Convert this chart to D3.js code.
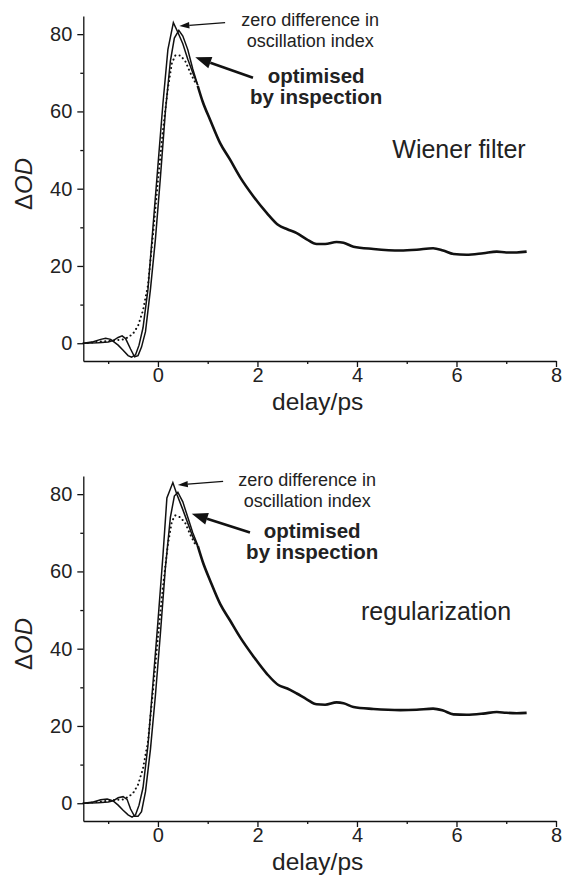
<!DOCTYPE html>
<html>
<head>
  <title>Delta OD traces</title>
  <script src="https://d3js.org/d3.v7.min.js"></script>
  <style>
    body { margin: 0; background: #fff; }
    text { font-family: "Liberation Sans", Arial, sans-serif; fill: #222; }
  </style>
</head>
<body>
  <svg width="563" height="878"></svg>

  <script>
    // axis ticks
    const xMajor = [0, 2, 4, 6, 8];
    const xMinor = [-1, 1, 3, 5, 7];
    const yMajor = [0, 20, 40, 60, 80];
    const yMinor = [10, 30, 50, 70];

    // ---- Wiener filter panel ----
    // [delay ps, dOD]
    const wienerZero = [[-1.5,0],[-1.3,0.4],[-1.15,1.0],[-1.05,1.3],[-0.95,1.0],[-0.8,-0.5],[-0.7,-1.8],[-0.6,-3.2],[-0.53,-3.6],[-0.45,-3],[-0.38,-0.5],[-0.3,4],[-0.2,14],[-0.1,30],[0,46],[0.1,62],[0.2,76],[0.31,83],[0.4,80.5],[0.5,77.5],[0.6,73.5],[0.7,70],[0.8,66.8]];
    const wienerOpt = [[-1.5,0],[-1.2,0.1],[-1.0,0.3],[-0.9,0.7],[-0.8,1.5],[-0.72,1.9],[-0.65,1.2],[-0.55,-1.5],[-0.47,-3.5],[-0.4,-3.2],[-0.33,-1],[-0.25,3],[-0.15,14],[-0.05,27],[0.05,43],[0.15,60],[0.25,73],[0.33,79],[0.42,81],[0.5,79.5],[0.6,76],[0.7,71],[0.8,66.8]];
    const wienerDot = [[-1.5,0],[-1.3,0.2],[-1.1,0.5],[-0.9,0.7],[-0.7,1.0],[-0.6,1.5],[-0.5,2.5],[-0.4,4.5],[-0.3,8.5],[-0.2,15],[-0.1,28],[0,42],[0.1,55],[0.2,66],[0.28,72.5],[0.35,74.5],[0.45,74.5],[0.55,73],[0.65,70],[0.75,67.5]];
    const wienerTail = [[0.8,66.6],[0.9,62.5],[1.05,57.8],[1.25,51.8],[1.45,47.5],[1.65,43],[1.92,38],[2.19,33.7],[2.42,30.6],[2.6,29.5],[2.79,28.5],[2.99,26.9],[3.19,25.7],[3.36,25.7],[3.59,26.2],[3.73,26.0],[3.93,25.0],[4.33,24.4],[4.87,24.0],[5.2,24.2],[5.53,24.6],[5.73,24.0],[5.94,23.1],[6.2,22.9],[6.54,23.3],[6.81,23.7],[7.0,23.5],[7.21,23.5],[7.41,23.7]];

    // ---- regularization panel ----
    const regZero = [[-1.5,0],[-1.3,0.3],[-1.15,0.9],[-1.02,1.1],[-0.9,0.6],[-0.8,-0.5],[-0.7,-1.8],[-0.6,-3.0],[-0.52,-3.6],[-0.45,-3],[-0.38,-0.5],[-0.3,4],[-0.2,15],[-0.1,31],[0,47],[0.1,64],[0.18,79],[0.3,83],[0.38,80],[0.5,76],[0.6,72.5],[0.7,69],[0.8,66.5]];
    const regOpt = [[-1.5,0],[-1.2,0.1],[-1.0,0.3],[-0.9,0.6],[-0.8,1.4],[-0.7,1.7],[-0.62,1.0],[-0.55,-1.5],[-0.47,-3.4],[-0.4,-3.4],[-0.33,-2.2],[-0.25,3],[-0.15,14],[-0.05,28],[0.05,44],[0.15,61],[0.25,74],[0.33,79.5],[0.4,80.5],[0.5,78],[0.6,74],[0.7,70],[0.8,66.8]];
    const regDot = [[-1.5,0],[-1.3,0.2],[-1.1,0.5],[-0.9,0.8],[-0.7,1.0],[-0.6,1.6],[-0.5,2.6],[-0.4,4.8],[-0.3,9],[-0.2,16],[-0.1,29],[0,43],[0.1,56],[0.2,67],[0.28,73],[0.35,74.5],[0.45,74],[0.55,72.5],[0.65,69.5],[0.75,67]];
    const regTail = [[0.8,66.6],[0.9,62.5],[1.05,57.6],[1.25,51.6],[1.45,47.3],[1.65,43],[1.92,38],[2.19,33.5],[2.42,30.6],[2.6,29.7],[2.79,28.4],[2.99,26.9],[3.19,25.6],[3.36,25.5],[3.59,26.1],[3.73,25.9],[3.93,24.9],[4.33,24.4],[4.87,24.1],[5.2,24.2],[5.53,24.5],[5.73,24.0],[5.94,23.0],[6.2,22.9],[6.54,23.2],[6.81,23.6],[7.0,23.4],[7.21,23.3],[7.41,23.4]];

    // annotation anchors in data units: [tail x, tail y, tip x, tip y]
    const wienerArrows = [[1.35,83.0,0.43,82.1],[1.91,68.7,0.75,74.0]];
    const regArrows = [[1.31,83.3,0.40,82.4],[1.85,70.1,0.68,74.9]];

    const svg = d3.select("svg");

    function drawPanel(top, zero, opt, dot, tail, arrows, notes) {
      const x = d3.scaleLinear().domain([-1.5, 8]).range([83.3, 556]);
      const y = d3.scaleLinear().domain([-4.6, 84.7]).range([top + 345, top]);
      const g = svg.append("g");
      const line = d3.line().x(d => x(d[0])).y(d => y(d[1]));
      const smooth = d3.line().x(d => x(d[0])).y(d => y(d[1])).curve(d3.curveMonotoneX);

      // x axis
      g.append("g").attr("transform", "translate(0," + y.range()[0] + ")")
        .call(d3.axisBottom(x).tickValues(xMajor).tickSize(6).tickPadding(1).tickSizeOuter(0));
      g.append("g").attr("transform", "translate(0," + y.range()[0] + ")")
        .call(d3.axisBottom(x).tickValues(xMinor).tickSize(3).tickFormat("").tickSizeOuter(0))
        .select(".domain").remove();

      // y axis
      g.append("g").attr("transform", "translate(" + x.range()[0] + ",0)")
        .call(d3.axisLeft(y).tickValues(yMajor).tickSize(6).tickPadding(5).tickSizeOuter(0));
      g.append("g").attr("transform", "translate(" + x.range()[0] + ",0)")
        .call(d3.axisLeft(y).tickValues(yMinor).tickSize(3).tickFormat("").tickSizeOuter(0))
        .select(".domain").remove();

      g.selectAll(".domain, .tick line").attr("stroke", "#111").attr("stroke-width", 1.3);
      g.selectAll(".tick text").style("font-size", "20px").attr("fill", "#222")
        .style("font-family", "'Liberation Sans', Arial, sans-serif");

      g.append("text")
        .attr("x", (x(-1.5) + x(8)) / 2 - 2)
        .attr("y", y.range()[0] + 49)
        .attr("text-anchor", "middle")
        .style("font-size", "24.5px")
        .text("delay/ps");

      const yt = g.append("text")
        .attr("transform", "translate(32," + (top + 168) + ") rotate(-90)")
        .attr("text-anchor", "middle")
        .style("font-size", "24px");
      yt.append("tspan").text("\u0394");
      yt.append("tspan").style("font-style", "italic").text("OD");

      // traces
      g.append("path").datum(dot).attr("d", line)
        .attr("fill", "none").attr("stroke", "#111").attr("stroke-width", 2)
        .attr("stroke-dasharray", "0.1,4.3").attr("stroke-linecap", "round");
      g.append("path").datum(zero).attr("d", line)
        .attr("fill", "none").attr("stroke", "#111").attr("stroke-width", 1.5);
      g.append("path").datum(opt).attr("d", line)
        .attr("fill", "none").attr("stroke", "#111").attr("stroke-width", 1.5);
      g.append("path").datum(tail).attr("d", smooth)
        .attr("fill", "none").attr("stroke", "#111").attr("stroke-width", 2.6)
        .attr("stroke-linejoin", "round");

      // arrows
      arrows.forEach((a, i) => {
        const x1 = x(a[0]), y1 = y(a[1]), x2 = x(a[2]), y2 = y(a[3]);
        const ang = Math.atan2(y2 - y1, x2 - x1);
        const len = i === 0 ? 10 : 16, half = i === 0 ? 3.2 : 6;
        const bx = x2 - len * Math.cos(ang), by = y2 - len * Math.sin(ang);
        g.append("line").attr("x1", x1).attr("y1", y1).attr("x2", bx).attr("y2", by)
          .attr("stroke", "#111").attr("stroke-width", i === 0 ? 1.3 : 2.6);
        g.append("polygon")
          .attr("points", [
            [x2, y2],
            [bx + half * Math.sin(ang), by - half * Math.cos(ang)],
            [bx - half * Math.sin(ang), by + half * Math.cos(ang)]
          ].map(p => p.join(",")).join(" "))
          .attr("fill", "#111");
      });

      // labels
      notes.forEach(n => {
        g.append("text")
          .attr("x", x(n.t)).attr("y", y(n.v))
          .attr("text-anchor", "middle")
          .style("font-size", n.size + "px")
          .style("font-weight", n.bold ? "bold" : "normal")
          .text(n.text);
      });
    }

    const wienerNotes = [
      { text: "zero difference in", t: 3.06, v: 82.1, size: 18 },
      { text: "oscillation index", t: 3.06, v: 76.8, size: 18 },
      { text: "optimised", t: 3.18, v: 67.4, size: 20.5, bold: true },
      { text: "by inspection", t: 3.18, v: 62.0, size: 20.5, bold: true },
      { text: "Wiener filter", t: 6.05, v: 48.0, size: 25 }
    ];
    const regNotes = [
      { text: "zero difference in", t: 3.0, v: 82.1, size: 18 },
      { text: "oscillation index", t: 3.0, v: 76.8, size: 18 },
      { text: "optimised", t: 3.1, v: 68.7, size: 20.5, bold: true },
      { text: "by inspection", t: 3.1, v: 63.3, size: 20.5, bold: true },
      { text: "regularization", t: 5.59, v: 47.5, size: 25 }
    ];

    drawPanel(16, wienerZero, wienerOpt, wienerDot, wienerTail, wienerArrows, wienerNotes);
    drawPanel(476, regZero, regOpt, regDot, regTail, regArrows, regNotes);
  </script>
</body>
</html>
